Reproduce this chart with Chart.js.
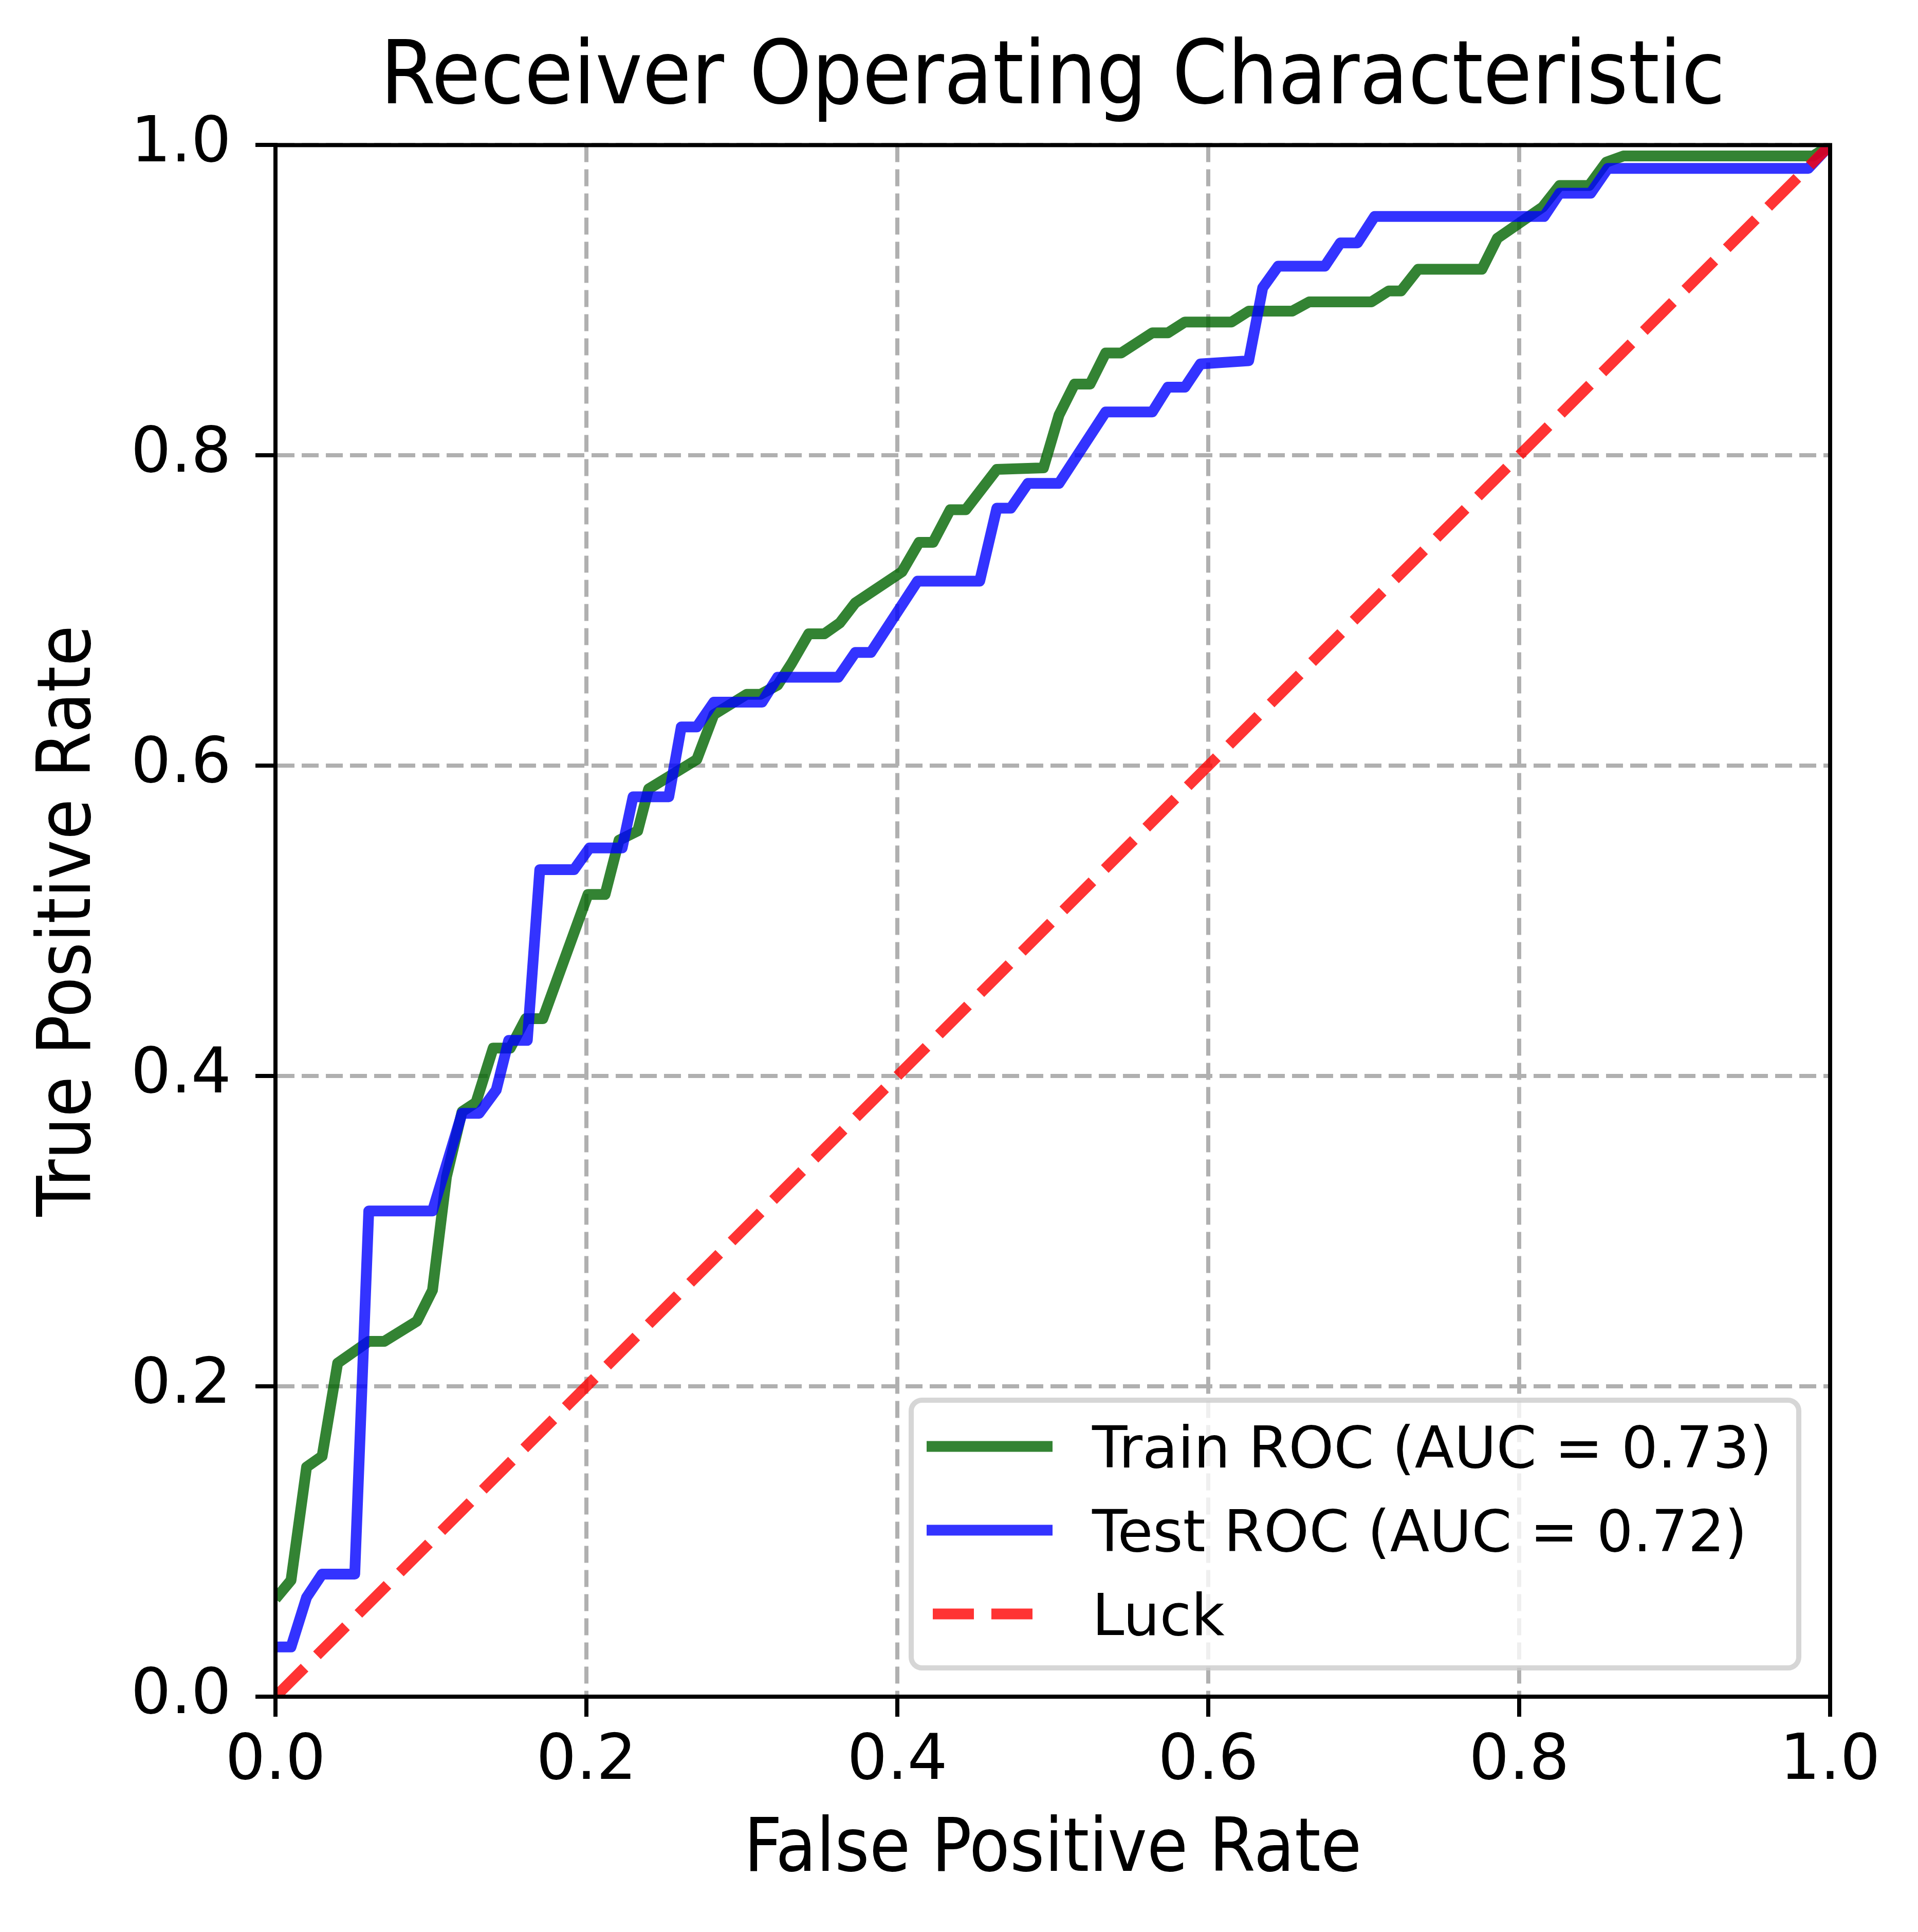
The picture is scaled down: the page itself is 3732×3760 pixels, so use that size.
<!DOCTYPE html>
<html>
<head>
<meta charset="utf-8">
<title>Receiver Operating Characteristic</title>
<script src="https://cdn.jsdelivr.net/npm/chart.js@4.4.1/dist/chart.umd.min.js"></script>
<style>
  html, body { margin: 0; padding: 0; background: #fff; }
  canvas { display: block; }
</style>
</head>
<body>
<canvas id="roc-chart" width="3732" height="3760" style="width:3732px;height:3760px"></canvas>
<script>
// values
const trainFpr = [0, 0.010, 0.020, 0.030, 0.040, 0.060, 0.070, 0.091, 0.101, 0.110, 0.120, 0.129, 0.140, 0.151, 0.161,
  0.172, 0.201, 0.212, 0.221, 0.233, 0.240, 0.271, 0.282, 0.303, 0.312, 0.323, 0.332, 0.343, 0.353, 0.363, 0.373, 0.403,
  0.414, 0.423, 0.434, 0.444, 0.464, 0.494, 0.504, 0.514, 0.524, 0.534, 0.544, 0.564, 0.574, 0.585, 0.615, 0.626, 0.654,
  0.665, 0.705, 0.716, 0.724, 0.735, 0.776, 0.786, 0.815, 0.826, 0.845, 0.856, 0.867, 0.989, 1.0]
const trainTpr = [0.063, 0.075, 0.148, 0.155, 0.215, 0.229, 0.229, 0.242, 0.262, 0.335, 0.377, 0.383, 0.418, 0.418, 0.437,
  0.437, 0.517, 0.517, 0.552, 0.558, 0.585, 0.604, 0.633, 0.646, 0.646, 0.652, 0.666, 0.685, 0.685, 0.692, 0.705, 0.725,
  0.744, 0.744, 0.765, 0.765, 0.791, 0.792, 0.826, 0.846, 0.846, 0.866, 0.866, 0.879, 0.879, 0.886, 0.886, 0.893, 0.893,
  0.899, 0.899, 0.906, 0.906, 0.920, 0.920, 0.940, 0.960, 0.974, 0.974, 0.989, 0.993, 0.993, 1.0]

const testFpr = [0, 0.010, 0.020, 0.030, 0.051, 0.060, 0.101, 0.120, 0.131, 0.142, 0.150, 0.162, 0.170, 0.192, 0.202,
  0.223, 0.230, 0.253, 0.261, 0.271, 0.282, 0.313, 0.323, 0.362, 0.373, 0.383, 0.413, 0.453, 0.464, 0.473, 0.484, 0.504,
  0.534, 0.564, 0.574, 0.585, 0.595, 0.626, 0.635, 0.645, 0.675, 0.685, 0.696, 0.707, 0.816, 0.826, 0.846, 0.857, 0.986, 1.0]
const testTpr = [0.032, 0.032, 0.064, 0.079, 0.079, 0.313, 0.313, 0.376, 0.376, 0.391, 0.423, 0.423, 0.533, 0.533, 0.547,
  0.547, 0.580, 0.580, 0.625, 0.625, 0.641, 0.641, 0.657, 0.657, 0.673, 0.673, 0.719, 0.719, 0.766, 0.766, 0.782, 0.782,
  0.828, 0.828, 0.844, 0.844, 0.859, 0.861, 0.908, 0.922, 0.922, 0.937, 0.937, 0.954, 0.954, 0.969, 0.969, 0.985, 0.985, 1.0]

const luckFpr = [0, 1]
const luckTpr = [0, 1]

const axisTicks = [0, 0.2, 0.4, 0.6, 0.8, 1.0]
const seriesLabels = ['Train ROC (AUC = 0.73)', 'Test ROC (AUC = 0.72)', 'Luck']

const labelFamily = "'DejaVu Sans Condensed', 'DejaVu Sans', sans-serif"
Chart.defaults.font.family = "'DejaVu Sans', sans-serif"
Chart.defaults.color = '#000'

function toPoints(xs, ys) {
  return xs.map((x, i) => ({x: x, y: ys[i]}))
}

// matplotlib style frame on all four sides, over the lines
const frame = {
  id: 'frame',
  afterDatasetsDraw(chart) {
    const {ctx, chartArea: a} = chart
    ctx.save()
    ctx.lineWidth = 8
    ctx.strokeStyle = '#000'
    ctx.strokeRect(a.left, a.top, a.right - a.left, a.bottom - a.top)
    ctx.restore()
  }
}

// boxed legend in the lower right corner of the plot
const boxLegend = {
  id: 'boxLegend',
  afterDraw(chart) {
    const {ctx, chartArea} = chart
    const right = chartArea.right - 61
    const bottom = chartArea.bottom - 56
    const left = right - 1727
    const top = bottom - 521
    ctx.save()
    ctx.beginPath()
    ctx.roundRect(left, top, right - left, bottom - top, 21)
    ctx.fillStyle = 'rgba(255,255,255,0.8)'
    ctx.fill()
    ctx.lineWidth = 10
    ctx.strokeStyle = 'rgba(204,204,204,0.8)'
    ctx.stroke()

    ctx.font = "112px 'DejaVu Sans', sans-serif"
    ctx.textBaseline = 'alphabetic'
    ctx.textAlign = 'left'
    chart.data.datasets.forEach((ds, i) => {
      const base = top + 131 + i * 163
      const mid = base - 41
      const dashed = !!ds.borderDash
      ctx.beginPath()
      ctx.setLineDash(ds.borderDash || [])
      ctx.lineWidth = ds.borderWidth
      ctx.strokeStyle = ds.borderColor
      ctx.lineCap = 'butt'
      ctx.moveTo(left + (dashed ? 42 : 30), mid)
      ctx.lineTo(left + (dashed ? 267 : 275), mid)
      ctx.stroke()
      ctx.setLineDash([])
      ctx.fillStyle = '#000'
      ctx.fillText(ds.label, left + 352, base)
    })
    ctx.restore()
  }
}

const gridOpts = {
  color: '#b0b0b0',
  lineWidth: 8,
  tickLength: 39,
  tickWidth: 8,
  tickColor: '#000',
  tickBorderDash: []
}
const borderOpts = {display: true, color: '#000', width: 8, dash: [33, 14]}

const config = {
  type: 'line',
  data: {
    datasets: [
      {
        label: seriesLabels[0],
        data: toPoints(trainFpr, trainTpr),
        borderColor: 'rgba(0,100,0,0.8)',
        borderWidth: 21,
        borderJoinStyle: 'round',
        pointRadius: 0,
        tension: 0,
        fill: false,
        clip: 0,
        order: 3
      },
      {
        label: seriesLabels[1],
        data: toPoints(testFpr, testTpr),
        borderColor: 'rgba(0,0,255,0.8)',
        borderWidth: 21,
        borderJoinStyle: 'round',
        pointRadius: 0,
        tension: 0,
        fill: false,
        clip: 0,
        order: 2
      },
      {
        label: seriesLabels[2],
        data: toPoints(luckFpr, luckTpr),
        borderColor: 'rgba(255,0,0,0.8)',
        borderWidth: 21,
        borderDash: [80, 34],
        borderCapStyle: 'butt',
        pointRadius: 0,
        tension: 0,
        fill: false,
        clip: 0,
        order: 1
      }
    ]
  },
  options: {
    responsive: false,
    devicePixelRatio: 1,
    animation: false,
    events: [],
    layout: {padding: {left: 0, right: 171, top: 0, bottom: 0}},
    plugins: {
      legend: {display: false},
      tooltip: {enabled: false},
      title: {
        display: true,
        text: 'Receiver Operating Characteristic',
        fullSize: false,
        color: '#000',
        font: {size: 172, family: labelFamily, weight: 'normal'},
        padding: {top: 53, bottom: 23}
      }
    },
    scales: {
      x: {
        type: 'linear',
        min: 0,
        max: 1,
        afterBuildTicks: s => { s.ticks = axisTicks.map(v => ({value: v})) },
        afterFit: s => { s.height = 458 },
        ticks: {
          callback: v => v.toFixed(1),
          font: {size: 123},
          color: '#000',
          padding: 15,
          maxRotation: 0,
          autoSkip: false
        },
        grid: gridOpts,
        border: borderOpts,
        title: {
          display: true,
          text: 'False Positive Rate',
          color: '#000',
          font: {size: 144, family: labelFamily},
          padding: {top: 0, bottom: 70}
        }
      },
      y: {
        type: 'linear',
        min: 0,
        max: 1,
        afterBuildTicks: s => { s.ticks = axisTicks.map(v => ({value: v})) },
        afterFit: s => { s.width = 536 },
        ticks: {
          callback: v => v.toFixed(1),
          font: {size: 123},
          color: '#000',
          padding: 47,
          autoSkip: false
        },
        grid: gridOpts,
        border: borderOpts,
        title: {
          display: true,
          text: 'True Positive Rate',
          color: '#000',
          font: {size: 144, family: labelFamily},
          padding: {top: 51, bottom: 0}
        }
      }
    }
  },
  plugins: [frame, boxLegend]
}

new Chart(document.getElementById('roc-chart'), config)
</script>
</body>
</html>
